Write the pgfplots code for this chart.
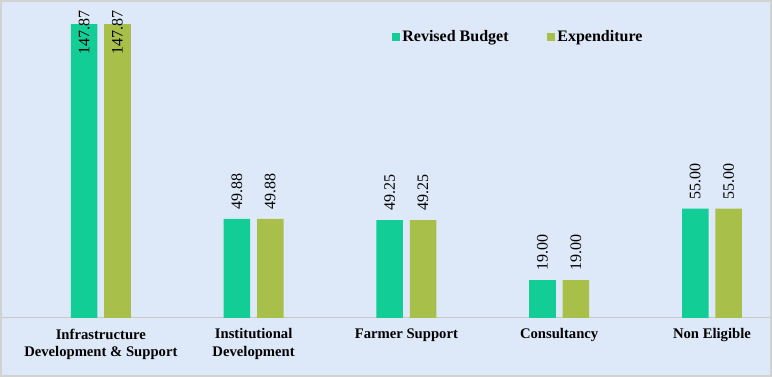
\documentclass[border=0pt]{standalone}
\usepackage{fontspec}
\setmainfont{Liberation Serif}
\usepackage{pgfplots}
\pgfplotsset{compat=1.18}
\definecolor{bgblue}{RGB}{221,233,248}
\definecolor{barA}{RGB}{18,206,150}
\definecolor{barB}{RGB}{168,192,74}
\definecolor{frameC}{RGB}{210,210,210}
\definecolor{baseC}{RGB}{200,200,200}
\begin{document}
\begin{tikzpicture}
\fill[bgblue] (-1.5pt,-44.25pt) rectangle (577.5pt,238.5pt);
\begin{axis}[
  at={(0,0)}, anchor=south west,
  scale only axis, width=576pt, height=237.75pt,
  xmin=-0.647, xmax=4.38, ymin=0, ymax=159.5,
  axis y line=none, axis x line*=bottom,
  x axis line style={draw=baseC, line width=0.75pt},
  xtick={0,1,2,3,4},
  xticklabels={{Infrastructure\\Development \& Support},{Institutional\\Development},{Farmer Support},{Consultancy},{Non Eligible}},
  xticklabel style={align=center, yshift=-4.5pt, font=\bfseries\fontsize{11}{13}\selectfont},
  major tick length=0pt,
  ybar, bar width=19.9pt,
  clip=false,
  nodes near coords,
  point meta=explicit symbolic,
  visualization depends on={rawy \as \rawy},
  every node near coord/.append style={font=\fontsize{12}{14}\selectfont, inner sep=0pt, yshift={(\rawy>100) ? -23 : 6.75}, rotate=90, anchor=west},
  legend columns=2,
  legend style={at={(0.5026,0.887)}, anchor=west, draw=none, fill=none, font=\bfseries\fontsize{12}{14}\selectfont, /tikz/every even column/.append style={column sep=27pt}},
  legend image code/.code={\fill[#1,draw=none] (0pt,-2.8pt) rectangle (5.6pt,2.8pt);},
]
\addplot[fill=barA, draw=none, bar shift=-12.5pt] coordinates {(0,147.87) [147.87] (1,49.88) [49.88] (2,49.25) [49.25] (3,19.00) [19.00] (4,55.00) [55.00]};
\addplot[fill=barB, draw=none, bar shift=12.5pt] coordinates {(0,147.87) [147.87] (1,49.88) [49.88] (2,49.25) [49.25] (3,19.00) [19.00] (4,55.00) [55.00]};
\legend{Revised Budget, Expenditure}
\end{axis}
\draw[frameC, line width=1.5pt] (-0.75pt,-43.5pt) rectangle (576.75pt,237.75pt);
\pgfresetboundingbox
\useasboundingbox (-1.5pt,-44.25pt) rectangle (577.5pt,238.5pt);
\end{tikzpicture}
\end{document}
